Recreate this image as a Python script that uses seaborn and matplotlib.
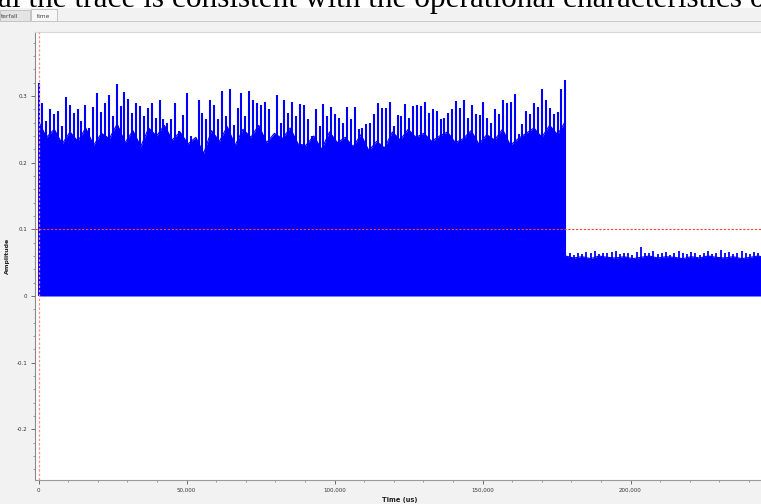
"""
Time-sink screenshot of a burst: dense magnitude noise then a low tail.
"""

import numpy as np
import matplotlib
matplotlib.use("Agg")
import matplotlib.pyplot as plt
from matplotlib.patches import Rectangle
from matplotlib.ticker import MultipleLocator, FuncFormatter
import seaborn as sns

# Data
BURST_END_US = 178000
TAIL_END_US = 246000

dense_peaks = [
    0.320, 0.290, 0.262, 0.280, 0.273, 0.278, 0.255, 0.299, 0.286, 0.275,
    0.280, 0.262, 0.286, 0.252, 0.284, 0.304, 0.276, 0.290, 0.301, 0.270,
    0.318, 0.285, 0.306, 0.295, 0.275, 0.290, 0.285, 0.270, 0.282, 0.290,
    0.267, 0.294, 0.265, 0.260,
    0.265, 0.290, 0.247, 0.271, 0.304, 0.240, 0.225, 0.294, 0.275, 0.265,
    0.294, 0.286, 0.265, 0.307, 0.270, 0.310, 0.256, 0.282, 0.305, 0.270,
    0.307, 0.294, 0.290, 0.286, 0.291, 0.280, 0.237, 0.301, 0.260, 0.294,
    0.275, 0.291, 0.270, 0.288,
    0.286, 0.265, 0.240, 0.280, 0.255, 0.288, 0.270, 0.284, 0.273, 0.267,
    0.260, 0.284, 0.265, 0.284, 0.250, 0.252, 0.258, 0.260, 0.273, 0.290,
    0.282, 0.282, 0.291, 0.255, 0.271, 0.270, 0.288, 0.267, 0.285, 0.286,
    0.285, 0.291, 0.275, 0.280,
    0.278, 0.265, 0.267, 0.274, 0.280, 0.293, 0.282, 0.294, 0.267, 0.286,
    0.273, 0.271, 0.291, 0.267, 0.260, 0.280, 0.273, 0.294, 0.290, 0.291,
    0.303, 0.243, 0.258, 0.278, 0.273, 0.290, 0.284, 0.310, 0.294, 0.282,
    0.273, 0.276, 0.310, 0.324,
]

# top of the solid part of the burst (roughly every second spike)
dense_body = [
    0.262, 0.238, 0.250, 0.228, 0.246, 0.232, 0.252, 0.226, 0.244, 0.236,
    0.258, 0.230, 0.248, 0.224, 0.252, 0.240, 0.256, 0.234, 0.246, 0.228,
    0.238, 0.214, 0.248, 0.232, 0.254, 0.226, 0.250, 0.238, 0.256, 0.230,
    0.244, 0.236, 0.252, 0.228, 0.226, 0.240, 0.220, 0.246, 0.230, 0.238,
    0.224, 0.242, 0.218, 0.232, 0.222, 0.246, 0.234, 0.250, 0.238, 0.244,
    0.232, 0.240, 0.246, 0.230, 0.236, 0.248, 0.228, 0.242, 0.234, 0.250,
    0.226, 0.236, 0.244, 0.252, 0.238, 0.256, 0.242, 0.262,
]

tail_peaks = [
    0.066, 0.064, 0.062, 0.065, 0.063, 0.066, 0.064, 0.067, 0.063, 0.065,
    0.064, 0.066, 0.068, 0.063, 0.065, 0.064, 0.062, 0.066, 0.073, 0.064,
    0.065, 0.067, 0.063, 0.064, 0.066, 0.062, 0.065, 0.068, 0.064, 0.063,
    0.066, 0.064, 0.062, 0.065, 0.067, 0.063, 0.064, 0.069, 0.064, 0.066,
    0.063, 0.065, 0.068, 0.064, 0.063, 0.066, 0.064, 0.065, 0.063,
]

tail_body = [
    0.060, 0.057, 0.059, 0.056, 0.060, 0.058, 0.057, 0.059, 0.056, 0.058,
    0.060, 0.057, 0.059, 0.058, 0.056, 0.059, 0.057, 0.060, 0.058, 0.057,
    0.059, 0.056, 0.058, 0.060, 0.057,
]

TRIGGER_LEVEL = 0.1
Y_TICKS = [-0.2, -0.1, 0, 0.1, 0.2, 0.3]
X_TICKS = [0, 50000, 100000, 150000, 200000]

# Figure / window chrome
W, H = 761, 504
sns.set_theme(style="white")
plt.rcParams["font.family"] = ["DejaVu Sans"]

fig = plt.figure(figsize=(W / 100, H / 100), dpi=100)
fig.patch.set_facecolor("#f2f2f2")


def px(x, y, w, h):
    """pixel box (top-left origin) -> figure fraction rect"""
    return [x / W, 1 - (y + h) / H, w / W, h / H]


# white document strip with the cut-off caption line
fig.patches.append(Rectangle((0, 1 - 8 / H), 1, 8 / H, transform=fig.transFigure,
                             facecolor="white", edgecolor="none", zorder=0))
fig.text(-0.002, 1 - 7 / H,
         "al the trace is consistent with the operational characteristics o",
         family="Liberation Serif", fontsize=22.5, color="black", va="baseline",
         zorder=3)

# tabs
fig.patches.append(Rectangle((0, 1 - 21 / H), 30 / W, 11 / H, transform=fig.transFigure,
                             facecolor="#e4e4e4", edgecolor="#bdbdbd", lw=0.6, zorder=1))
fig.patches.append(Rectangle((31 / W, 1 - 21 / H), 26 / W, 12 / H, transform=fig.transFigure,
                             facecolor="#f7f7f7", edgecolor="#bdbdbd", lw=0.6, zorder=1))
fig.text(1 / W, 1 - 18 / H, "terfall", fontsize=4.2, color="#444444", zorder=2)
fig.text(37 / W, 1 - 17.5 / H, "time", fontsize=4.2, color="#444444", zorder=2)
fig.lines.append(plt.Line2D([57 / W, 1], [1 - 21 / H, 1 - 21 / H], transform=fig.transFigure,
                            color="#c4c4c4", lw=0.6))

# plot canvas
ax = fig.add_axes(px(35, 32, W - 35, 448))
ax.set_facecolor("white")

dense_t = np.linspace(0, BURST_END_US, len(dense_peaks))
dense_bt = np.linspace(0, BURST_END_US, len(dense_body))
tail_t = np.linspace(BURST_END_US, TAIL_END_US, len(tail_peaks))
tail_bt = np.linspace(BURST_END_US, TAIL_END_US, len(tail_body))

blue = "#0000ff"
ax.fill_between(dense_bt, 0, dense_body, color=blue, lw=0)
ax.fill_between(tail_bt, 0, tail_body, color=blue, lw=0)
ax.vlines(dense_t, 0, dense_peaks, color=blue, lw=1.5)
ax.vlines(tail_t, 0, tail_peaks, color=blue, lw=1.3)
sns.lineplot(x=dense_bt, y=dense_body, ax=ax, color=blue, lw=0.8)
sns.lineplot(x=tail_bt, y=tail_body, ax=ax, color=blue, lw=0.8)

# trigger markers
ax.axhline(TRIGGER_LEVEL, color="#ff4040", ls=(0, (2, 1.5)), lw=0.8, zorder=5)
ax.axvline(0, color="#ff9090", ls=(0, (2, 1.5)), lw=0.9, zorder=5)

ax.set_xlim(-1200, (W - 38.5) / 0.00296)
ax.set_ylim(-0.276, 0.396)

ax.set_yticks(Y_TICKS)
ax.yaxis.set_minor_locator(MultipleLocator(0.02))
ax.yaxis.set_major_formatter(FuncFormatter(lambda v, _: f"{v:g}" if abs(v) > 1e-9 else "0"))
ax.set_xticks(X_TICKS)
ax.xaxis.set_minor_locator(MultipleLocator(10000))
ax.xaxis.set_major_formatter(FuncFormatter(lambda v, _: f"{int(v):,}"))

ax.tick_params(axis="both", which="major", length=3, width=0.6, color="#555555",
               labelsize=4, labelcolor="#333333", pad=2.5)
ax.tick_params(axis="both", which="minor", length=1.6, width=0.5, color="#777777")
ax.tick_params(axis="x", which="both", bottom=True)
ax.tick_params(axis="y", which="both", left=True)

ax.spines["right"].set_visible(False)
ax.spines["left"].set_color("#8a8a8a")
ax.spines["bottom"].set_color("#9a9a9a")
ax.spines["top"].set_color("#d8d8d8")
for side in ("left", "bottom", "top"):
    ax.spines[side].set_linewidth(0.8)

ax.set_xlabel("Time (us)", fontsize=4.8, fontweight="bold", color="#222222")
ax.xaxis.set_label_coords((400 - 35) / (W - 35), -(497 - 480) / 448)
ax.set_ylabel("Amplitude", fontsize=4.5, fontweight="bold", color="#222222")
ax.yaxis.set_label_coords(-(35 - 10) / (W - 35), (480 - 256) / 448)

fig.savefig("out.png", dpi=100, facecolor=fig.get_facecolor())
